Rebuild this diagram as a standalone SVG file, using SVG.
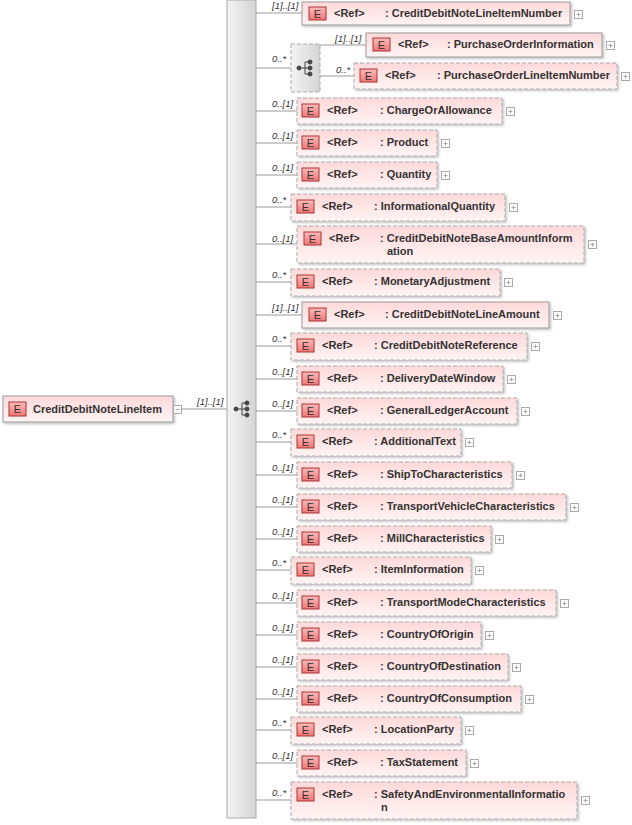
<svg xmlns="http://www.w3.org/2000/svg" width="632" height="825" viewBox="0 0 632 825">
<defs>
<linearGradient id="nb" x1="0" y1="0" x2="0" y2="1"><stop offset="0" stop-color="#ffd9d9"/><stop offset="1" stop-color="#fff4f4"/></linearGradient>
<linearGradient id="eb" x1="0" y1="0" x2="0" y2="1"><stop offset="0" stop-color="#fbb"/><stop offset="1" stop-color="#e77"/></linearGradient>
<linearGradient id="sp" x1="0" y1="0" x2="1" y2="0"><stop offset="0" stop-color="#f4f4f4"/><stop offset="1" stop-color="#d4d4d4"/></linearGradient>
<filter id="sh" x="-5%" y="-10%" width="110%" height="130%"><feDropShadow dx="1.5" dy="1.5" stdDeviation="1" flood-color="#000" flood-opacity="0.25"/></filter>
<symbol id="pl" overflow="visible"><rect x="0.5" y="0.5" width="8" height="8" fill="#fff" stroke="#aaa"/><path d="M2.5 4.5H6.5M4.5 2.5V6.5" stroke="#aaa"/></symbol>
</defs>
<style>
.b{fill:url(#nb);stroke:#999;stroke-width:1;filter:url(#sh)}
.o{stroke-dasharray:4,2;stroke:#aaa}
.e{fill:url(#eb);stroke:#a33;stroke-width:1}
.et{font:11px "Liberation Sans",Arial,sans-serif;fill:#333;text-anchor:middle}
.t{font:bold 11px "Liberation Sans",Arial,sans-serif;fill:#333}
.l{font:italic 9.5px "Liberation Sans",Arial,sans-serif;fill:#333}
.c line,.c path{stroke:#999;stroke-width:1;fill:none}
</style>
<g class="c" id="connectors">
<line x1="181" y1="409" x2="227" y2="409"/>
<line x1="256" y1="13" x2="302" y2="13"/>
<line x1="256" y1="68" x2="291" y2="68"/>
<line x1="320" y1="45" x2="366" y2="45"/>
<line x1="320" y1="76" x2="354" y2="76"/>
<line x1="256" y1="111" x2="297" y2="111"/>
<line x1="256" y1="143" x2="297" y2="143"/>
<line x1="256" y1="175" x2="297" y2="175"/>
<line x1="256" y1="207" x2="291" y2="207"/>
<line x1="256" y1="244" x2="297" y2="244"/>
<line x1="256" y1="282" x2="291" y2="282"/>
<line x1="256" y1="315" x2="302" y2="315"/>
<line x1="256" y1="346" x2="291" y2="346"/>
<line x1="256" y1="379" x2="297" y2="379"/>
<line x1="256" y1="411" x2="297" y2="411"/>
<line x1="256" y1="442" x2="291" y2="442"/>
<line x1="256" y1="475" x2="297" y2="475"/>
<line x1="256" y1="507" x2="297" y2="507"/>
<line x1="256" y1="539" x2="297" y2="539"/>
<line x1="256" y1="570" x2="291" y2="570"/>
<line x1="256" y1="603" x2="297" y2="603"/>
<line x1="256" y1="635" x2="297" y2="635"/>
<line x1="256" y1="667" x2="297" y2="667"/>
<line x1="256" y1="699" x2="297" y2="699"/>
<line x1="256" y1="730" x2="291" y2="730"/>
<line x1="256" y1="763" x2="297" y2="763"/>
<line x1="256" y1="800" x2="291" y2="800"/>
<text class="l" x="197" y="405">[1]..[1]</text>
<text class="l" x="272" y="9">[1]..[1]</text>
<text class="l" x="272" y="62">0..*</text>
<text class="l" x="335" y="42">[1]..[1]</text>
<text class="l" x="336" y="73">0..*</text>
<text class="l" x="272" y="107">0..[1]</text>
<text class="l" x="272" y="139">0..[1]</text>
<text class="l" x="272" y="171">0..[1]</text>
<text class="l" x="272" y="203">0..*</text>
<text class="l" x="272" y="242">0..[1]</text>
<text class="l" x="272" y="278">0..*</text>
<text class="l" x="272" y="311">[1]..[1]</text>
<text class="l" x="272" y="342">0..*</text>
<text class="l" x="272" y="375">0..[1]</text>
<text class="l" x="272" y="407">0..[1]</text>
<text class="l" x="272" y="438">0..*</text>
<text class="l" x="272" y="471">0..[1]</text>
<text class="l" x="272" y="503">0..[1]</text>
<text class="l" x="272" y="535">0..[1]</text>
<text class="l" x="272" y="566">0..*</text>
<text class="l" x="272" y="599">0..[1]</text>
<text class="l" x="272" y="631">0..[1]</text>
<text class="l" x="272" y="663">0..[1]</text>
<text class="l" x="272" y="695">0..[1]</text>
<text class="l" x="272" y="726">0..*</text>
<text class="l" x="272" y="759">0..[1]</text>
<text class="l" x="272" y="796">0..*</text>
</g>
<g id="spine">
<rect x="227" y="0" width="29" height="818" fill="url(#sp)" stroke="#aaa"/>
<g fill="#444" stroke="#444"><circle cx="236" cy="409" r="2"/><line x1="236" y1="409" x2="242" y2="409"/><path d="M242 403V415M242 403H246M242 409H246M242 415H246" fill="none"/><circle cx="247" cy="403" r="2"/><circle cx="247" cy="409" r="2"/><circle cx="247" cy="415" r="2"/></g>
</g>
<g id="root">
<rect class="b" x="3" y="396" width="170" height="26"/>
<rect class="e" x="9" y="402" width="17" height="14"/><text class="et" x="17.5" y="413">E</text>
<text class="t" x="33" y="413">CreditDebitNoteLineItem</text>
<rect x="173.5" y="405.5" width="8" height="8" fill="#fff" stroke="#aaa"/><line x1="175.5" y1="409.5" x2="179.5" y2="409.5" stroke="#aaa"/>
</g>
<g id="choice">
<rect x="291" y="44" width="29" height="48" fill="url(#sp)" stroke="#aaa" stroke-dasharray="4,2"/>
<g fill="#444" stroke="#444"><circle cx="299" cy="68" r="2"/><line x1="299" y1="68" x2="305" y2="68"/><path d="M305 62V74M305 62H309M305 68H309M305 74H309" fill="none"/><circle cx="310" cy="62" r="2"/><circle cx="310" cy="68" r="2"/><circle cx="310" cy="74" r="2"/></g>
</g>
<g id="n1"><rect class="b" x="302" y="2" width="268" height="23"/><rect class="e" x="309" y="7" width="17" height="13"/><text class="et" x="317.5" y="17.5">E</text><text class="t" x="334" y="17">&lt;Ref&gt;</text><text class="t" x="385" y="17">: CreditDebitNoteLineItemNumber</text><use href="#pl" x="574" y="10"/></g>
<g id="n2"><rect class="b" x="366" y="33" width="236" height="24"/><rect class="e" x="373" y="38" width="17" height="13"/><text class="et" x="381.5" y="48.5">E</text><text class="t" x="398" y="48">&lt;Ref&gt;</text><text class="t" x="447" y="48">: PurchaseOrderInformation</text><use href="#pl" x="606" y="41"/></g>
<g id="n3"><rect class="b o" x="354" y="63" width="263" height="26"/><rect class="e" x="360" y="69" width="17" height="13"/><text class="et" x="368.5" y="79.5">E</text><text class="t" x="385" y="79">&lt;Ref&gt;</text><text class="t" x="437" y="79">: PurchaseOrderLineItemNumber</text><use href="#pl" x="621" y="72"/></g>
<g id="n4"><rect class="b o" x="297" y="98" width="205" height="26"/><rect class="e" x="302" y="104" width="17" height="13"/><text class="et" x="310.5" y="114.5">E</text><text class="t" x="327" y="114">&lt;Ref&gt;</text><text class="t" x="380" y="114">: ChargeOrAllowance</text><use href="#pl" x="506" y="107"/></g>
<g id="n5"><rect class="b o" x="297" y="130" width="140" height="26"/><rect class="e" x="302" y="136" width="17" height="13"/><text class="et" x="310.5" y="146.5">E</text><text class="t" x="327" y="146">&lt;Ref&gt;</text><text class="t" x="380" y="146">: Product</text><use href="#pl" x="441" y="139"/></g>
<g id="n6"><rect class="b o" x="297" y="162" width="140" height="26"/><rect class="e" x="302" y="168" width="17" height="13"/><text class="et" x="310.5" y="178.5">E</text><text class="t" x="327" y="178">&lt;Ref&gt;</text><text class="t" x="380" y="178">: Quantity</text><use href="#pl" x="441" y="171"/></g>
<g id="n7"><rect class="b o" x="291" y="194" width="214" height="27"/><rect class="e" x="297" y="200" width="17" height="13"/><text class="et" x="305.5" y="210.5">E</text><text class="t" x="322" y="210">&lt;Ref&gt;</text><text class="t" x="374" y="210">: InformationalQuantity</text><use href="#pl" x="509" y="203"/></g>
<g id="n8"><rect class="b o" x="297" y="226" width="287" height="37"/><rect class="e" x="304" y="232" width="17" height="13"/><text class="et" x="312.5" y="242.5">E</text><text class="t" x="329" y="242">&lt;Ref&gt;</text><text class="t" x="380" y="242">: CreditDebitNoteBaseAmountInform</text><text class="t" x="387" y="255">ation</text><use href="#pl" x="588" y="240"/></g>
<g id="n9"><rect class="b o" x="291" y="269" width="209" height="27"/><rect class="e" x="297" y="275" width="17" height="13"/><text class="et" x="305.5" y="285.5">E</text><text class="t" x="322" y="285">&lt;Ref&gt;</text><text class="t" x="374" y="285">: MonetaryAdjustment</text><use href="#pl" x="504" y="278"/></g>
<g id="n10"><rect class="b" x="302" y="302" width="247" height="26"/><rect class="e" x="309" y="308" width="17" height="13"/><text class="et" x="317.5" y="318.5">E</text><text class="t" x="334" y="318">&lt;Ref&gt;</text><text class="t" x="385" y="318">: CreditDebitNoteLineAmount</text><use href="#pl" x="553" y="311"/></g>
<g id="n11"><rect class="b o" x="291" y="333" width="236" height="27"/><rect class="e" x="297" y="339" width="17" height="13"/><text class="et" x="305.5" y="349.5">E</text><text class="t" x="322" y="349">&lt;Ref&gt;</text><text class="t" x="374" y="349">: CreditDebitNoteReference</text><use href="#pl" x="531" y="342"/></g>
<g id="n12"><rect class="b o" x="297" y="366" width="206" height="26"/><rect class="e" x="302" y="372" width="17" height="13"/><text class="et" x="310.5" y="382.5">E</text><text class="t" x="327" y="382">&lt;Ref&gt;</text><text class="t" x="380" y="382">: DeliveryDateWindow</text><use href="#pl" x="507" y="375"/></g>
<g id="n13"><rect class="b o" x="297" y="398" width="220" height="26"/><rect class="e" x="302" y="404" width="17" height="13"/><text class="et" x="310.5" y="414.5">E</text><text class="t" x="327" y="414">&lt;Ref&gt;</text><text class="t" x="380" y="414">: GeneralLedgerAccount</text><use href="#pl" x="521" y="407"/></g>
<g id="n14"><rect class="b o" x="291" y="429" width="170" height="27"/><rect class="e" x="297" y="435" width="17" height="13"/><text class="et" x="305.5" y="445.5">E</text><text class="t" x="322" y="445">&lt;Ref&gt;</text><text class="t" x="374" y="445">: AdditionalText</text><use href="#pl" x="465" y="438"/></g>
<g id="n15"><rect class="b o" x="297" y="462" width="215" height="26"/><rect class="e" x="302" y="468" width="17" height="13"/><text class="et" x="310.5" y="478.5">E</text><text class="t" x="327" y="478">&lt;Ref&gt;</text><text class="t" x="380" y="478">: ShipToCharacteristics</text><use href="#pl" x="516" y="471"/></g>
<g id="n16"><rect class="b o" x="297" y="494" width="269" height="26"/><rect class="e" x="302" y="500" width="17" height="13"/><text class="et" x="310.5" y="510.5">E</text><text class="t" x="327" y="510">&lt;Ref&gt;</text><text class="t" x="380" y="510">: TransportVehicleCharacteristics</text><use href="#pl" x="570" y="503"/></g>
<g id="n17"><rect class="b o" x="297" y="526" width="194" height="26"/><rect class="e" x="302" y="532" width="17" height="13"/><text class="et" x="310.5" y="542.5">E</text><text class="t" x="327" y="542">&lt;Ref&gt;</text><text class="t" x="380" y="542">: MillCharacteristics</text><use href="#pl" x="495" y="535"/></g>
<g id="n18"><rect class="b o" x="291" y="557" width="180" height="27"/><rect class="e" x="297" y="563" width="17" height="13"/><text class="et" x="305.5" y="573.5">E</text><text class="t" x="322" y="573">&lt;Ref&gt;</text><text class="t" x="374" y="573">: ItemInformation</text><use href="#pl" x="475" y="566"/></g>
<g id="n19"><rect class="b o" x="297" y="590" width="259" height="26"/><rect class="e" x="302" y="596" width="17" height="13"/><text class="et" x="310.5" y="606.5">E</text><text class="t" x="327" y="606">&lt;Ref&gt;</text><text class="t" x="380" y="606">: TransportModeCharacteristics</text><use href="#pl" x="560" y="599"/></g>
<g id="n20"><rect class="b o" x="297" y="622" width="184" height="26"/><rect class="e" x="302" y="628" width="17" height="13"/><text class="et" x="310.5" y="638.5">E</text><text class="t" x="327" y="638">&lt;Ref&gt;</text><text class="t" x="380" y="638">: CountryOfOrigin</text><use href="#pl" x="485" y="631"/></g>
<g id="n21"><rect class="b o" x="297" y="654" width="211" height="26"/><rect class="e" x="302" y="660" width="17" height="13"/><text class="et" x="310.5" y="670.5">E</text><text class="t" x="327" y="670">&lt;Ref&gt;</text><text class="t" x="380" y="670">: CountryOfDestination</text><use href="#pl" x="512" y="663"/></g>
<g id="n22"><rect class="b o" x="297" y="686" width="224" height="26"/><rect class="e" x="302" y="692" width="17" height="13"/><text class="et" x="310.5" y="702.5">E</text><text class="t" x="327" y="702">&lt;Ref&gt;</text><text class="t" x="380" y="702">: CountryOfConsumption</text><use href="#pl" x="525" y="695"/></g>
<g id="n23"><rect class="b o" x="291" y="717" width="170" height="27"/><rect class="e" x="297" y="723" width="17" height="13"/><text class="et" x="305.5" y="733.5">E</text><text class="t" x="322" y="733">&lt;Ref&gt;</text><text class="t" x="374" y="733">: LocationParty</text><use href="#pl" x="465" y="726"/></g>
<g id="n24"><rect class="b o" x="297" y="750" width="169" height="26"/><rect class="e" x="302" y="756" width="17" height="13"/><text class="et" x="310.5" y="766.5">E</text><text class="t" x="327" y="766">&lt;Ref&gt;</text><text class="t" x="380" y="766">: TaxStatement</text><use href="#pl" x="470" y="759"/></g>
<g id="n25"><rect class="b o" x="291" y="782" width="286" height="37"/><rect class="e" x="297" y="788" width="17" height="13"/><text class="et" x="305.5" y="798.5">E</text><text class="t" x="322" y="798">&lt;Ref&gt;</text><text class="t" x="374" y="798">: SafetyAndEnvironmentalInformatio</text><text class="t" x="381" y="811">n</text><use href="#pl" x="581" y="796"/></g>
</svg>
